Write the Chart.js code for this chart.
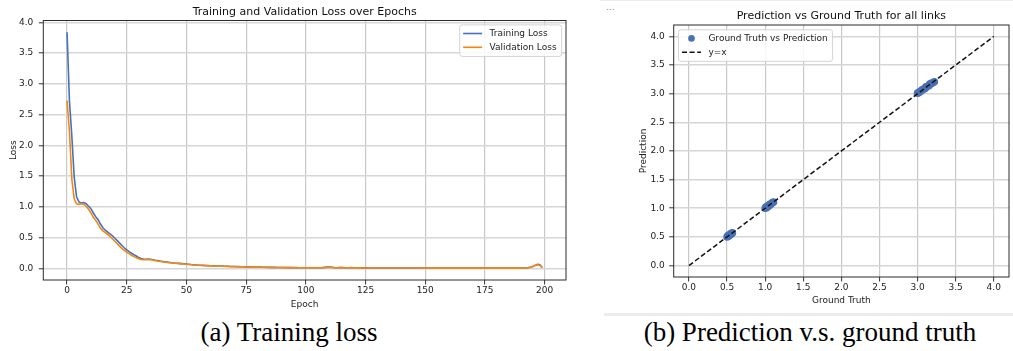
<!DOCTYPE html>
<html>
<head>
<meta charset="utf-8">
<script src="https://cdn.jsdelivr.net/npm/chart.js@4"></script>
<style>
  html, body { margin: 0; padding: 0; background: #fff; }
  body { width: 1013px; height: 351px; position: relative; overflow: hidden; }
  canvas { position: absolute; top: 0; }
  #lossChart { left: 0; }
  #scatterChart { left: 600px; }
  .caption { position: absolute; top: 319px; font-family: 'Liberation Serif', 'Times New Roman', serif;
             font-size: 27px; line-height: 27px; text-align: center; color: #000; white-space: nowrap; }
  .rule { position: absolute; background: #ececec; }
  .dots { position: absolute; left: 606px; top: 2px; font: 9px 'DejaVu Sans', sans-serif; color: #888; }
</style>
</head>
<body>
<div class="rule" style="left:600px;top:0;width:413px;height:1px"></div>
<div class="dots">...</div>
<div class="rule" style="left:604px;top:313px;width:409px;height:2.5px"></div>
<canvas id="lossChart" width="575" height="315"></canvas>
<canvas id="scatterChart" width="413" height="315"></canvas>
<div class="caption" style="left:0;width:578px">(a) Training loss</div>
<div class="caption" style="left:606px;width:408px">(b) Prediction v.s. ground truth</div>

<script>
// ---- loss history, one value per epoch ----
const trainLoss = [
  3.84, 2.72, 2.15, 1.48, 1.16, 1.08, 1.06, 1.07, 1.05, 1.01,
  0.97, 0.90, 0.84, 0.79, 0.72, 0.66, 0.62, 0.59, 0.56, 0.53,
  0.49, 0.45, 0.41, 0.37, 0.33, 0.30, 0.27, 0.245, 0.22, 0.20,
  0.175, 0.16, 0.15, 0.148, 0.15, 0.147, 0.14, 0.132, 0.125, 0.118,
  0.112, 0.105, 0.100, 0.095, 0.090, 0.086, 0.083, 0.080, 0.077, 0.073,
  0.069, 0.065, 0.061, 0.058, 0.055, 0.052, 0.050, 0.048, 0.046, 0.044,
  0.042, 0.041, 0.039, 0.038, 0.036, 0.035, 0.034, 0.033, 0.031, 0.030,
  0.029, 0.028, 0.027, 0.026, 0.025, 0.024, 0.023, 0.022, 0.021, 0.020,
  0.019, 0.019, 0.018, 0.017, 0.017, 0.016, 0.015, 0.015, 0.014, 0.014,
  0.013, 0.013, 0.012, 0.012, 0.011, 0.011, 0.011, 0.010, 0.010, 0.010,
  0.009, 0.009, 0.009, 0.009, 0.008, 0.008, 0.009, 0.011, 0.015, 0.019,
  0.021, 0.017, 0.012, 0.010, 0.012, 0.014, 0.011, 0.009, 0.010, 0.012,
  0.010, 0.008, 0.008, 0.007, 0.007, 0.007, 0.007, 0.006, 0.006, 0.006,
  0.006, 0.006, 0.006, 0.006, 0.005, 0.005, 0.005, 0.005, 0.005, 0.005,
  0.005, 0.005, 0.005, 0.004, 0.004, 0.004, 0.004, 0.004, 0.004, 0.004,
  0.004, 0.004, 0.004, 0.004, 0.004, 0.004, 0.004, 0.004, 0.003, 0.003,
  0.003, 0.003, 0.003, 0.003, 0.003, 0.003, 0.003, 0.003, 0.003, 0.003,
  0.003, 0.003, 0.003, 0.003, 0.003, 0.003, 0.003, 0.003, 0.003, 0.003,
  0.003, 0.003, 0.003, 0.003, 0.003, 0.003, 0.003, 0.003, 0.003, 0.003,
  0.003, 0.004, 0.005, 0.009, 0.016, 0.030, 0.048, 0.066, 0.060, 0.012
];
const valLoss = [
  2.73, 2.22, 1.45, 1.13, 1.05, 1.04, 1.05, 1.04, 1.01, 0.96,
  0.90, 0.83, 0.78, 0.72, 0.65, 0.61, 0.58, 0.55, 0.52, 0.48,
  0.44, 0.40, 0.36, 0.32, 0.29, 0.26, 0.24, 0.21, 0.19, 0.17,
  0.155, 0.145, 0.14, 0.14, 0.143, 0.14, 0.133, 0.125, 0.118, 0.112,
  0.106, 0.100, 0.095, 0.090, 0.086, 0.082, 0.079, 0.076, 0.073, 0.069,
  0.065, 0.061, 0.058, 0.055, 0.052, 0.049, 0.047, 0.045, 0.043, 0.041,
  0.040, 0.038, 0.037, 0.035, 0.034, 0.033, 0.032, 0.031, 0.029, 0.028,
  0.027, 0.026, 0.025, 0.024, 0.023, 0.022, 0.021, 0.020, 0.019, 0.019,
  0.018, 0.017, 0.017, 0.016, 0.015, 0.015, 0.014, 0.014, 0.013, 0.013,
  0.012, 0.012, 0.011, 0.011, 0.011, 0.010, 0.010, 0.010, 0.009, 0.009,
  0.009, 0.008, 0.008, 0.008, 0.008, 0.007, 0.008, 0.010, 0.013, 0.016,
  0.018, 0.014, 0.010, 0.009, 0.011, 0.012, 0.010, 0.008, 0.009, 0.010,
  0.009, 0.007, 0.007, 0.007, 0.006, 0.006, 0.006, 0.006, 0.006, 0.005,
  0.005, 0.005, 0.005, 0.005, 0.005, 0.005, 0.005, 0.005, 0.004, 0.004,
  0.004, 0.004, 0.004, 0.004, 0.004, 0.004, 0.004, 0.004, 0.004, 0.004,
  0.004, 0.004, 0.003, 0.003, 0.003, 0.003, 0.003, 0.003, 0.003, 0.003,
  0.003, 0.003, 0.003, 0.003, 0.003, 0.003, 0.003, 0.003, 0.003, 0.003,
  0.003, 0.003, 0.003, 0.003, 0.003, 0.003, 0.003, 0.003, 0.003, 0.003,
  0.003, 0.003, 0.003, 0.003, 0.003, 0.003, 0.003, 0.003, 0.003, 0.003,
  0.003, 0.003, 0.004, 0.008, 0.015, 0.028, 0.045, 0.058, 0.050, 0.008
];
const epochs = trainLoss.map((_, i) => i);
const lossXTicks = [0, 25, 50, 75, 100, 125, 150, 175, 200];
const lossYTicks = [0, 0.5, 1, 1.5, 2, 2.5, 3, 3.5, 4];

// ---- per-link ground truth and prediction ----
const groundTruth = [
  0.50, 0.51, 0.52, 0.52, 0.53, 0.54, 0.55, 0.55, 0.56, 0.57,
  1.00, 1.01, 1.02, 1.03, 1.04, 1.05, 1.06, 1.07, 1.08, 1.09, 1.10, 1.11,
  3.00, 3.02, 3.03, 3.05, 3.06, 3.08, 3.10, 3.11, 3.13, 3.15, 3.16, 3.18, 3.20, 3.22
];
const prediction = [
  0.50, 0.52, 0.51, 0.53, 0.53, 0.54, 0.54, 0.56, 0.56, 0.57,
  1.00, 1.02, 1.01, 1.04, 1.03, 1.05, 1.07, 1.06, 1.08, 1.09, 1.10, 1.11,
  3.01, 3.02, 3.04, 3.05, 3.07, 3.08, 3.09, 3.12, 3.13, 3.14, 3.17, 3.18, 3.19, 3.21
];
const identityEnds = [0, 4];
const scatterTicks = [0, 0.5, 1, 1.5, 2, 2.5, 3, 3.5, 4];

const BLUE = '#4472c0';
const ORANGE = '#f5870f';
const DOT = '#4a70b4';

Chart.defaults.font.family = "'DejaVu Sans', sans-serif";
Chart.defaults.font.size = 9;
Chart.defaults.color = '#222';
Chart.defaults.animation = false;

// axes frame, centred axes title, and an in-axes legend box
const axesDecor = {
  id: 'axesDecor',
  afterDraw(chart, args, opts) {
    const { ctx, chartArea: a } = chart;
    ctx.save();
    // frame
    ctx.strokeStyle = '#2b2b2b';
    ctx.lineWidth = 1;
    ctx.strokeRect(a.left, a.top, a.right - a.left, a.bottom - a.top);
    // title
    ctx.fillStyle = '#111';
    ctx.font = "11px 'DejaVu Sans', sans-serif";
    ctx.textAlign = 'center';
    ctx.textBaseline = 'alphabetic';
    ctx.fillText(opts.title, (a.left + a.right) / 2, opts.titleBaseline);
    // legend
    ctx.font = "9px 'DejaVu Sans', sans-serif";
    const sets = chart.data.datasets;
    const maxW = Math.max(...sets.map(d => ctx.measureText(d.label).width));
    const padL = 3.5, handle = 19, gap = 7.4, padR = 5, rowH = 13.8, h = 31.5;
    const w = padL + handle + gap + maxW + padR;
    const bx = opts.legendSide === 'right' ? a.right - opts.inset - w : a.left + opts.inset;
    const by = a.top + opts.inset;
    ctx.beginPath();
    ctx.roundRect(bx, by, w, h, 2.5);
    ctx.fillStyle = 'rgba(255,255,255,0.85)';
    ctx.fill();
    ctx.strokeStyle = '#d4d4d4';
    ctx.lineWidth = 1;
    ctx.stroke();
    sets.forEach((d, i) => {
      const cy = by + 8.6 + i * rowH;
      const hx = bx + padL;
      if (d.showLine === false) {
        ctx.beginPath();
        ctx.arc(hx + handle / 2, cy, 3.3, 0, Math.PI * 2);
        ctx.fillStyle = d.backgroundColor;
        ctx.fill();
      } else {
        ctx.beginPath();
        ctx.setLineDash(d.borderDash || []);
        ctx.strokeStyle = d.borderColor;
        ctx.lineWidth = d.borderWidth;
        ctx.moveTo(hx, cy);
        ctx.lineTo(hx + handle, cy);
        ctx.stroke();
        ctx.setLineDash([]);
      }
      ctx.fillStyle = '#222';
      ctx.textAlign = 'left';
      ctx.textBaseline = 'middle';
      ctx.fillText(d.label, hx + handle + gap, cy);
    });
    ctx.restore();
  }
};

function linearAxis(ticksArr, fmt, range, gridCfg, extra) {
  return Object.assign({
    type: 'linear',
    min: range[0],
    max: range[1],
    afterBuildTicks: axis => { axis.ticks = ticksArr.map(v => ({ value: v })); },
    ticks: { autoSkip: false, maxRotation: 0, callback: fmt, color: '#222', font: { size: 9 } },
    grid: Object.assign({ drawTicks: true, tickLength: 4.5, tickColor: '#333', tickWidth: 1 }, gridCfg),
    border: { display: false }
  }, extra);
}

// ---- training / validation loss ----
new Chart(document.getElementById('lossChart'), {
  type: 'line',
  data: {
    datasets: [
      { label: 'Training Loss', data: epochs.map(i => ({ x: i, y: trainLoss[i] })),
        borderColor: BLUE, backgroundColor: BLUE, borderWidth: 1.6, pointRadius: 0, tension: 0, order: 1 },
      { label: 'Validation Loss', data: epochs.map(i => ({ x: i, y: valLoss[i] })),
        borderColor: ORANGE, backgroundColor: ORANGE, borderWidth: 1.6, pointRadius: 0, tension: 0, order: 0 }
    ]
  },
  options: {
    responsive: false,
    events: [],
    layout: { padding: { left: 0, top: 20.5, right: 9, bottom: 0 } },
    plugins: {
      legend: { display: false },
      tooltip: { enabled: false },
      axesDecor: { title: 'Training and Validation Loss over Epochs', titleBaseline: 15.3, legendSide: 'right', inset: 4.4 }
    },
    scales: {
      x: linearAxis(lossXTicks, v => String(v), [-9.95, 208.95],
        { color: '#c8c8c8', lineWidth: 1.2 },
        { ticks: { autoSkip: false, maxRotation: 0, padding: 1.2, callback: v => String(v) },
          title: { display: true, text: 'Epoch', font: { size: 9 }, color: '#222', padding: { top: 0, bottom: 5.3 } },
          afterFit: s => { s.height = 35; } }),
      y: linearAxis(lossYTicks, v => v.toFixed(1), [-0.19, 4.03],
        { color: '#d6d6d6', lineWidth: 1.6 },
        { ticks: { autoSkip: false, padding: 5.5, callback: v => v.toFixed(1) },
          title: { display: true, text: 'Loss', font: { size: 9 }, color: '#222', padding: { top: 8.5, bottom: 0 } },
          afterFit: s => { s.width = 43.3; } })
    }
  },
  plugins: [axesDecor]
});

// ---- prediction vs ground truth ----
new Chart(document.getElementById('scatterChart'), {
  type: 'scatter',
  data: {
    datasets: [
      { label: 'Ground Truth vs Prediction', data: groundTruth.map((g, i) => ({ x: g, y: prediction[i] })),
        backgroundColor: DOT, borderColor: DOT, borderWidth: 0, pointRadius: 3.8, showLine: false, order: 1 },
      { label: 'y=x', data: identityEnds.map(v => ({ x: v, y: v })),
        borderColor: '#111', backgroundColor: '#111', borderWidth: 1.5, borderDash: [5, 2.6],
        pointRadius: 0, showLine: true, order: 0 }
    ]
  },
  options: {
    responsive: false,
    events: [],
    layout: { padding: { left: 0, top: 25, right: 0.7, bottom: 0 } },
    plugins: {
      legend: { display: false },
      tooltip: { enabled: false },
      axesDecor: { title: 'Prediction vs Ground Truth for all links', titleBaseline: 18.5, legendSide: 'left', inset: 4.8 }
    },
    scales: {
      x: linearAxis(scatterTicks, v => v.toFixed(1), [-0.2, 4.2],
        { color: '#c8c8c8', lineWidth: 1.2 },
        { ticks: { autoSkip: false, maxRotation: 0, padding: 1, callback: v => v.toFixed(1) },
          title: { display: true, text: 'Ground Truth', font: { size: 9 }, color: '#222', padding: { top: 0, bottom: 8.8 } },
          afterFit: s => { s.height = 38; } }),
      y: linearAxis(scatterTicks, v => v.toFixed(1), [-0.2, 4.2],
        { color: '#d6d6d6', lineWidth: 1.6 },
        { ticks: { autoSkip: false, padding: 4.5, callback: v => v.toFixed(1) },
          title: { display: true, text: 'Prediction', font: { size: 9 }, color: '#222', padding: { top: 38.6, bottom: 0 } },
          afterFit: s => { s.width = 73.7; } })
    }
  },
  plugins: [axesDecor]
});
</script>
</body>
</html>
